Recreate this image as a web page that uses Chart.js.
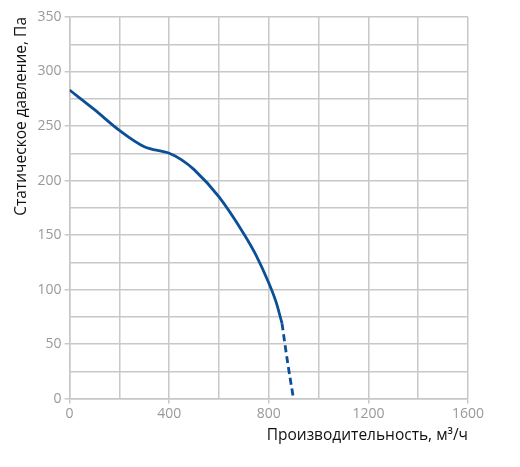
<!DOCTYPE html>
<html>
<head>
<meta charset="utf-8">
<script src="https://cdn.jsdelivr.net/npm/chart.js@4"></script>
<style>
  html, body { margin: 0; padding: 0; background: #fff; }
  #wrap { width: 520px; height: 467px; }
</style>
</head>
<body>
<div id="wrap"><canvas id="fanChart"></canvas></div>
<script>
// Напорная характеристика: сплошная часть и пунктирный хвост
const flowSolid = [0, 100, 200, 300, 400, 450, 500, 600, 700, 750, 800, 830, 853];
const pressureSolid = [283, 265, 246, 231, 225, 219, 210, 185, 151, 131, 106, 88, 69];
const flowDashed = [853, 875, 899];
const pressureDashed = [69, 34, 0];
const xLabels = [0, 400, 800, 1200, 1600];
const yLabels = [0, 50, 100, 150, 200, 250, 300, 350];

const toPoints = (xs, ys) => xs.map((x, i) => ({ x: x, y: ys[i] }));

const lineColor = "#0b4f96";
const gridColor = "#c8c8c8";
const tickFont = { family: "Open Sans", size: 14 };

const ctx = document.getElementById('fanChart').getContext('2d');
new Chart(ctx, {
    type: 'line',
    data: {
        datasets: [{
            data: toPoints(flowSolid, pressureSolid),
            borderColor: lineColor,
            borderWidth: 2.8,
            pointRadius: 0,
            cubicInterpolationMode: 'monotone',
            fill: false
        }, {
            data: toPoints(flowDashed, pressureDashed),
            borderColor: lineColor,
            borderWidth: 2.8,
            borderDash: [7, 4],
            pointRadius: 0,
            cubicInterpolationMode: 'monotone',
            fill: false
        }]
    },
    options: {
        responsive: true,
        maintainAspectRatio: false,
        animation: false,
        layout: { padding: { left: 8, right: 52, top: 17, bottom: 18 } },
        plugins: {
            legend: { display: false },
            tooltip: { enabled: false }
        },
        scales: {
            x: {
                type: 'linear',
                min: 0,
                max: 1600,
                title: {
                    display: true,
                    text: 'Производительность, м³/ч',
                    align: 'end',
                    color: '#111',
                    font: { family: "Open Sans", size: 15.5 },
                    padding: { top: 2 }
                },
                ticks: {
                    stepSize: 200,
                    color: '#999',
                    font: tickFont,
                    maxRotation: 0,
                    autoSkip: false,
                    padding: 2,
                    callback: (v) => xLabels.includes(v) ? v : ''
                },
                grid: {
                    color: gridColor,
                    lineWidth: 1.5,
                    tickLength: 5,
                    tickColor: (c) => xLabels.includes(c.tick && c.tick.value) ? gridColor : 'rgba(0,0,0,0)'
                },
                border: { color: gridColor, width: 1.5 }
            },
            y: {
                min: 0,
                max: 350,
                title: {
                    display: true,
                    text: 'Статическое давление, Па',
                    align: 'end',
                    color: '#111',
                    font: { family: "Open Sans", size: 15.5 },
                    padding: { bottom: 4 }
                },
                ticks: {
                    stepSize: 25,
                    color: '#999',
                    font: tickFont,
                    autoSkip: false,
                    padding: 3,
                    callback: (v) => yLabels.includes(v) ? v : ''
                },
                grid: {
                    color: gridColor,
                    lineWidth: 1.5,
                    tickLength: 5,
                    tickColor: (c) => yLabels.includes(c.tick && c.tick.value) ? gridColor : 'rgba(0,0,0,0)'
                },
                border: { color: gridColor, width: 1.5 }
            }
        }
    }
});
</script>
</body>
</html>
